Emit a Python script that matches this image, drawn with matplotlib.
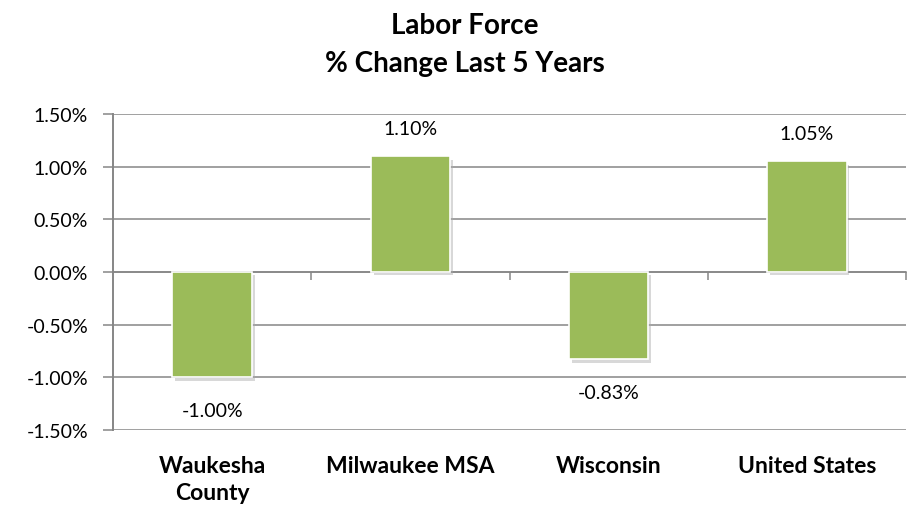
import matplotlib
matplotlib.use("Agg")
import matplotlib.pyplot as plt
import matplotlib.patheffects as pe
from matplotlib.ticker import FuncFormatter, FixedLocator

# data
categories = ["Waukesha\nCounty", "Milwaukee MSA", "Wisconsin", "United States"]
values = [-1.00, 1.10, -0.83, 1.05]
value_labels = ["-1.00%", "1.10%", "-0.83%", "1.05%"]
yticks = [-1.5, -1.0, -0.5, 0.0, 0.5, 1.0, 1.5]
title_lines = ["Labor Force", "% Change Last 5 Years"]

plt.rcParams['font.family'] = ['Lato', 'DejaVu Sans']

grey = "#868686"
green = "#9BBB59"

fig = plt.figure(figsize=(9.07, 5.10), dpi=100)
ax = fig.add_axes([0.1246, 0.155, 0.8744, 0.6195])

x = list(range(len(categories)))
bars = ax.bar(x, values, width=0.4, color=green, edgecolor="white", linewidth=1.2, zorder=3)
for b in bars:
    b.set_path_effects([pe.SimplePatchShadow(offset=(2, -2.5), shadow_rgbFace="#aaaaaa", alpha=0.45),
                        pe.Normal()])

ax.set_xlim(-0.5, 3.5)
ax.set_ylim(-1.5, 1.5)
ax.yaxis.set_major_locator(FixedLocator(yticks))
ax.yaxis.set_major_formatter(FuncFormatter(lambda v, p: "%.2f%%" % v))
ax.yaxis.grid(True, color=grey, linewidth=1.1, zorder=0)
ax.tick_params(axis="y", direction="out", length=7, width=1.1, color=grey,
               labelsize=14, pad=11, labelcolor="black")

for s in ["top", "right"]:
    ax.spines[s].set_visible(False)
ax.spines["left"].set_color(grey)
ax.spines["left"].set_linewidth(1.4)
ax.spines["bottom"].set_position(("data", 0))
ax.spines["bottom"].set_color(grey)
ax.spines["bottom"].set_linewidth(1.1)

# ticks at category boundaries on the zero line
ax.set_xticks([0.5, 1.5, 2.5, 3.5])
ax.tick_params(axis="x", direction="out", length=6, width=1.1, color=grey, labelbottom=False)

# value labels
for xi, v, lab in zip(x, values, value_labels):
    off = 28 if v > 0 else -33
    ax.annotate(lab, (xi, v), xytext=(0, off), textcoords="offset pixels",
                ha="center", va="center", fontsize=14, zorder=4)

# category labels, one line at a time
for xi, c in zip(x, categories):
    for i, line in enumerate(c.split("\n")):
        ax.annotate(line, (xi, -1.5), xytext=(0, -42 - 27 * i), textcoords="offset pixels",
                    ha="center", va="baseline", fontsize=16.5, fontweight="bold")

# title
fig.text(465 / 907, 1 - 34 / 510, title_lines[0], ha="center", va="baseline",
         fontsize=20, fontweight="bold")
fig.text(465 / 907, 1 - 72 / 510, title_lines[1], ha="center", va="baseline",
         fontsize=20, fontweight="bold")

fig.savefig("out.png", dpi=100)
